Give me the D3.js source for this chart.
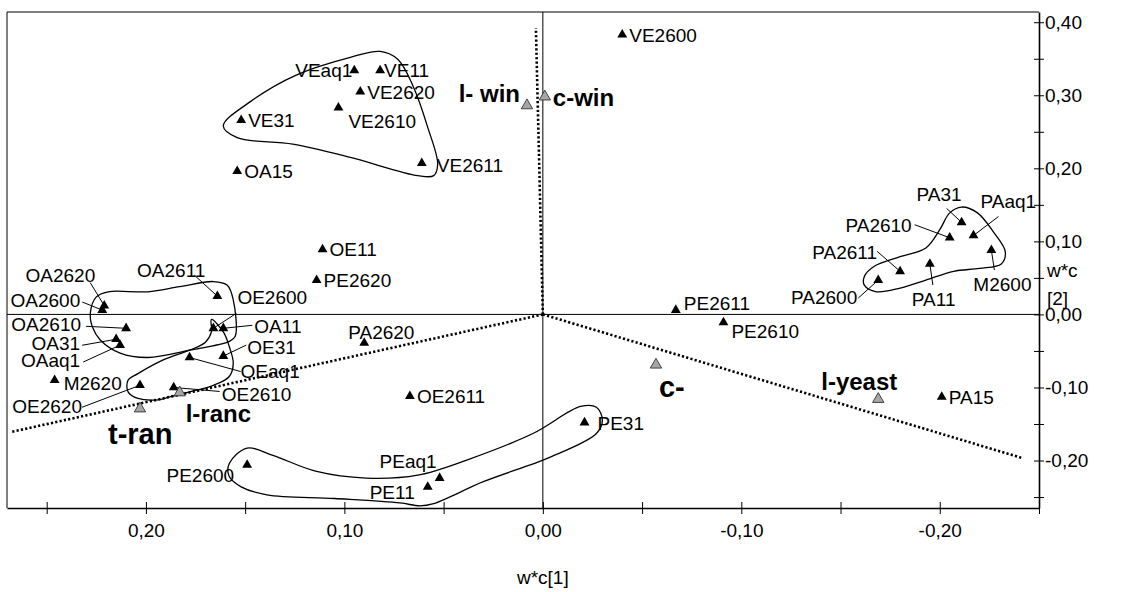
<!DOCTYPE html>
<meta charset="utf-8">
<style>
    body { margin: 0; background: #fff; }
    svg text { font-family: "Liberation Sans", Arial, sans-serif; fill: #000; }
    .lbl { font-size: 19px; }
    .ref { font-size: 24px; font-weight: bold; }
    .ref.big { font-size: 29px; }
    .axis text { font-size: 19px; }
    .axis path, .axis line { stroke: #000; }
</style>
<svg></svg>
<script src="https://d3js.org/d3.v7.min.js"></script>
<script>

    // ---- data ----
    var sampleNames = ["VE2600", "VEaq1", "VE11", "VE2620", "VE2610", "VE31", "VE2611", "OA15",
        "OE11", "PE2620", "PA2620", "OA2620", "OA2600", "OA2611", "OE2600", "OA11", "OA2610",
        "OA31", "OAaq1", "OE31", "OEaq1", "M2620", "OE2620", "OE2610", "OE2611", "PE31",
        "PE2600", "PEaq1", "PE11", "PA31", "PA2610", "PAaq1", "M2600", "PA11", "PA2611",
        "PA2600", "PE2611", "PE2610", "PA15"];
    var sampleX = [-0.040, 0.095, 0.082, 0.092, 0.103, 0.152, 0.061, 0.154,
        0.111, 0.114, 0.090, 0.221, 0.222, 0.164, 0.166, 0.161, 0.210,
        0.215, 0.213, 0.161, 0.178, 0.246, 0.203, 0.186, 0.067, -0.021,
        0.149, 0.052, 0.058, -0.211, -0.205, -0.217, -0.226, -0.195, -0.180,
        -0.169, -0.067, -0.091, -0.201];
    var sampleY = [0.383, 0.334, 0.334, 0.305, 0.283, 0.266, 0.207, 0.196,
        0.089, 0.047, -0.039, 0.012, 0.006, 0.025, -0.019, -0.019, -0.019,
        -0.034, -0.042, -0.057, -0.059, -0.090, -0.097, -0.100, -0.112, -0.148,
        -0.206, -0.224, -0.236, 0.126, 0.105, 0.108, 0.088, 0.069, 0.059,
        0.047, 0.006, -0.011, -0.113];

    var refNames = ["l- win", "c-win", "c-", "l-yeast", "l-ranc", "t-ran"];
    var refX = [0.008, -0.001, -0.057, -0.169, 0.183, 0.203];
    var refY = [0.286, 0.298, -0.069, -0.116, -0.107, -0.129];

    // dotted lines from the origin
    var loadX = [0.0035, 0.268, -0.242];
    var loadY = [0.392, -0.161, -0.197];

    // enclosing curves
    var hullVE = [[0.161, 0.258], [0.147, 0.292], [0.124, 0.328], [0.097, 0.352], [0.082, 0.360],
        [0.073, 0.349], [0.065, 0.310], [0.058, 0.256], [0.053, 0.206], [0.055, 0.190],
        [0.063, 0.190], [0.097, 0.215], [0.126, 0.233], [0.154, 0.242]];
    var hullOA = [[0.228, 0.002], [0.225, 0.024], [0.219, 0.031], [0.199, 0.031], [0.183, 0.038],
        [0.166, 0.045], [0.159, 0.040], [0.156, 0.020], [0.155, -0.030], [0.158, -0.037],
        [0.178, -0.049], [0.199, -0.059], [0.213, -0.053], [0.223, -0.035], [0.227, -0.017]];
    var hullOE = [[0.167, -0.007], [0.161, -0.024], [0.158, -0.044], [0.156, -0.067], [0.158, -0.085],
        [0.166, -0.097], [0.178, -0.106], [0.188, -0.113], [0.194, -0.117], [0.204, -0.115],
        [0.209, -0.106], [0.209, -0.090], [0.204, -0.081], [0.191, -0.062], [0.178, -0.049],
        [0.170, -0.038], [0.167, -0.024]];
    var hullPE = [[0.158, -0.204], [0.149, -0.183], [0.136, -0.193], [0.114, -0.215], [0.089, -0.224],
        [0.063, -0.220], [0.038, -0.199], [0.005, -0.163], [-0.019, -0.126], [-0.027, -0.127],
        [-0.030, -0.145], [-0.027, -0.163], [-0.004, -0.195], [0.030, -0.229], [0.055, -0.259],
        [0.062, -0.262], [0.072, -0.258], [0.105, -0.252], [0.139, -0.247], [0.152, -0.236],
        [0.158, -0.222]];
    var hullPA = [[-0.162, 0.052], [-0.167, 0.066], [-0.180, 0.079], [-0.193, 0.091], [-0.200, 0.116],
        [-0.205, 0.139], [-0.211, 0.147], [-0.219, 0.139], [-0.227, 0.113], [-0.233, 0.086],
        [-0.231, 0.069], [-0.220, 0.063], [-0.207, 0.059], [-0.193, 0.047], [-0.180, 0.036],
        [-0.168, 0.031], [-0.162, 0.040]];

    var xTickValues = [-0.25, -0.20, -0.15, -0.10, -0.05, 0.00, 0.05, 0.10, 0.15, 0.20, 0.25];
    var yTickValues = [-0.25, -0.20, -0.15, -0.10, -0.05, 0.00, 0.05, 0.10, 0.15, 0.20, 0.25, 0.30, 0.35, 0.40];

    // ---- label placement (pixel offsets from the marker) ----
    var place = {
        "VEaq1": [-2, 7, "end"], "PE2600": [-13, 17, "end"], "PEaq1": [-3, -10, "end"],
        "PE11": [-13, 12, "end"], "VE11": [4, 7], "VE2610": [10, 20], "VE2611": [15, 9],
        "PA2620": [-16, -4], "M2620": [9, 10], "PE31": [13, 7], "PE2611": [8, 0], "PE2610": [8, 16],
        "OA2620": [-9, -24, "end", -14, -23], "OA2600": [-22, -3, "end", -20, -8],
        "OA2611": [-12, -19, "end", -23, -21], "OE2600": [24, -24, "start", 23, -15],
        "OA11": [31, 5, "start", 29, -3], "OA2610": [-45, 3, "end", -40, -2],
        "OA31": [-36, 11, "end", -34, 6], "OAaq1": [-40, 22, "end", -37, 17],
        "OE31": [24, -2, "start", 23, -11], "OEaq1": [51, 20, "start", 51, 14],
        "OE2620": [-58, 28, "end", -58, 22], "OE2610": [48, 14, "start", 46, 4],
        "PA31": [0, -21, "end", -15, -14], "PAaq1": [7, -28, "start", 25, -19],
        "PA2610": [-38, -6, "end", -35, -13], "PA2611": [-23, -12, "end", -23, -20],
        "PA2600": [-21, 24, "end", -20, 18], "PA11": [-18, 42, "start", 3, 21],
        "M2600": [-18, 41, "start", 3, 20],
        "l- win": [-7, -4, "end"], "c-win": [8, 9], "c-": [3, 32], "l-yeast": [-57, -9],
        "l-ranc": [6, 29], "t-ran": [-32, 35]
    };

    var width = 1139,
        height = 592;

    var svg = d3.select("svg")
        .attr("width", width)
        .attr("height", height);

    var x = d3.scaleLinear().domain([0.27, -0.25]).range([7, 1039]);
    var y = d3.scaleLinear().domain([-0.265, 0.414]).range([508, 12]);

    function fmt(v) {
        var r = Math.round(v * 100);
        if (r % 10 !== 0) return "";
        return (r === 0 ? "0.00" : (r / 100).toFixed(2)).replace(".", ",");
    }

    // frame (top + left)
    svg.append("path")
        .attr("d", "M" + x.range()[0] + "," + y.range()[0] + "V" + y.range()[1] + "H" + x.range()[1])
        .attr("fill", "none").attr("stroke", "#000").attr("stroke-width", 1);

    // zero lines
    svg.append("line")
        .attr("x1", x.range()[0]).attr("x2", x.range()[1])
        .attr("y1", y(0)).attr("y2", y(0))
        .attr("stroke", "#000").attr("stroke-width", 1);
    svg.append("line")
        .attr("x1", x(0)).attr("x2", x(0))
        .attr("y1", y.range()[0]).attr("y2", y.range()[1])
        .attr("stroke", "#000").attr("stroke-width", 1);

    // axes
    var gx = svg.append("g").attr("class", "axis")
        .attr("transform", "translate(0," + y.range()[0] + ")")
        .call(d3.axisBottom(x).tickValues(xTickValues).tickSizeInner(6).tickSizeOuter(0).tickFormat(fmt));
    gx.select(".domain").attr("stroke-width", 1.6);
    gx.selectAll(".tick line").attr("y1", -6).attr("y2", 6);
    gx.selectAll(".tick text").attr("y", 29).attr("dy", 0);

    var gy = svg.append("g").attr("class", "axis")
        .attr("transform", "translate(" + x.range()[1] + ",0)")
        .call(d3.axisRight(y).tickValues(yTickValues).tickSizeInner(5).tickSizeOuter(0).tickFormat(fmt));
    gy.select(".domain").attr("stroke-width", 1.6);
    gy.selectAll(".tick line").attr("x1", -5).attr("x2", 5);
    gy.selectAll(".tick text").attr("x", 6).attr("dy", "0.33em");

    svg.append("text").attr("class", "lbl")
        .attr("x", x(0)).attr("y", 584).attr("text-anchor", "middle").text("w*c[1]");
    svg.append("text").attr("class", "lbl")
        .attr("x", 1047).attr("y", 277).text("w*c");
    svg.append("text").attr("class", "lbl")
        .attr("x", 1047).attr("y", 305).text("[2]");

    // dotted lines
    svg.append("g").selectAll("line")
        .data(loadX)
        .enter().append("line")
        .attr("x1", x(0)).attr("y1", y(0))
        .attr("x2", function (d) { return x(d); })
        .attr("y2", function (d, i) { return y(loadY[i]); })
        .attr("stroke", "#000")
        .attr("stroke-width", 2.6)
        .attr("stroke-dasharray", "2.2,2.2");

    // hulls
    var hullLine = d3.line()
        .x(function (d) { return x(d[0]); })
        .y(function (d) { return y(d[1]); })
        .curve(d3.curveCatmullRomClosed.alpha(0.5));

    svg.append("g").selectAll("path")
        .data([hullVE, hullOA, hullOE, hullPE, hullPA])
        .enter().append("path")
        .attr("d", hullLine)
        .attr("fill", "none")
        .attr("stroke", "#000")
        .attr("stroke-width", 1.3);

    // leader lines + labels
    function drawLabels(names, xs, ys, cls) {
        var g = svg.append("g");
        names.forEach(function (n, i) {
            var px = x(xs[i]), py = y(ys[i]);
            var p = place[n] || [7, 7];
            if (p.length > 3) {
                g.append("line")
                    .attr("x1", px + p[3]).attr("y1", py + p[4])
                    .attr("x2", px).attr("y2", py)
                    .attr("stroke", "#000").attr("stroke-width", 1);
            }
            g.append("text")
                .attr("class", cls)
                .attr("x", px + p[0]).attr("y", py + p[1])
                .attr("text-anchor", p[2] || "start")
                .text(n);
        });
    }

    drawLabels(sampleNames, sampleX, sampleY, "lbl");
    drawLabels(refNames, refX, refY, "ref");
    svg.selectAll("text.ref").filter(function () {
        var t = d3.select(this).text();
        return t === "c-" || t === "t-ran";
    }).classed("big", true);

    // markers
    var tri = d3.symbol().type(d3.symbolTriangle);

    svg.append("g").selectAll("path")
        .data(sampleX)
        .enter().append("path")
        .attr("d", tri.size(42)())
        .attr("transform", function (d, i) { return "translate(" + x(d) + "," + y(sampleY[i]) + ")"; })
        .attr("fill", "#000");

    svg.append("g").selectAll("path")
        .data(refX)
        .enter().append("path")
        .attr("d", tri.size(56)())
        .attr("transform", function (d, i) { return "translate(" + x(d) + "," + y(refY[i]) + ")"; })
        .attr("fill", "#a6a6a6")
        .attr("stroke", "#222")
        .attr("stroke-width", 0.8);

</script>
